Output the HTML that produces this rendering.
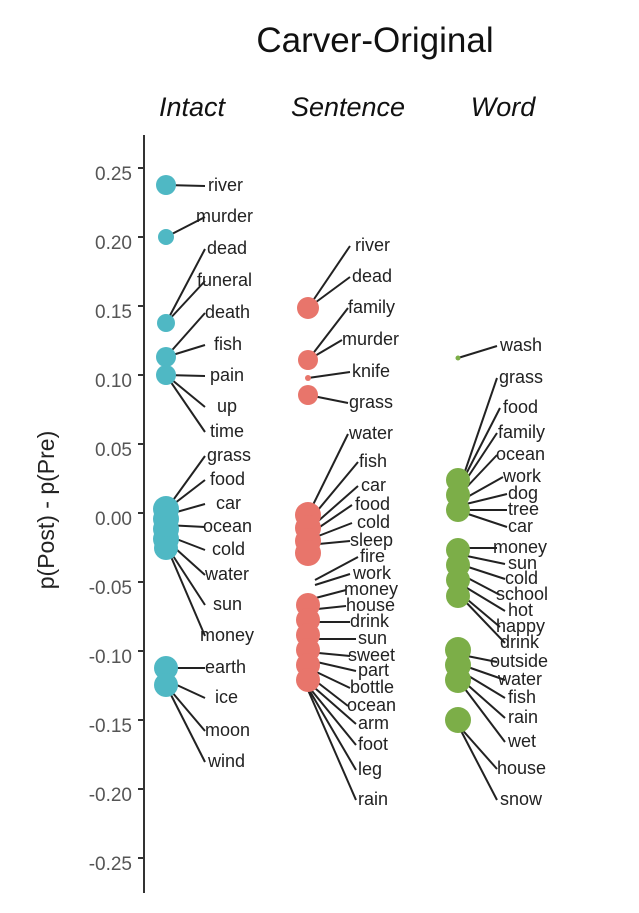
<!DOCTYPE html>
<html><head><meta charset="utf-8"><style>
html,body{margin:0;padding:0;background:#fff;}
svg{display:block;font-family:"Liberation Sans",Arial,sans-serif;}
.l{stroke:#222;stroke-width:2;}
.t{font-size:18px;fill:#222;dominant-baseline:middle;}
.k{font-size:19px;fill:#555;text-anchor:end;dominant-baseline:middle;}
</style></head><body>
<svg width="639" height="913" viewBox="0 0 639 913">
<text x="375" y="52" font-size="35" text-anchor="middle" fill="#111">Carver-Original</text>
<g font-size="27" font-style="italic" text-anchor="middle" fill="#111">
<text x="192" y="116">Intact</text><text x="348" y="116">Sentence</text><text x="503" y="116">Word</text></g>
<text transform="translate(54,510) rotate(-90)" font-size="23" text-anchor="middle" fill="#222">p(Post) - p(Pre)</text>
<line x1="144" y1="135" x2="144" y2="893" stroke="#333" stroke-width="2"/>
<g stroke="#333" stroke-width="2">
<line x1="138" y1="168" x2="144" y2="168"/><line x1="138" y1="237" x2="144" y2="237"/><line x1="138" y1="306" x2="144" y2="306"/><line x1="138" y1="375" x2="144" y2="375"/><line x1="138" y1="444" x2="144" y2="444"/><line x1="138" y1="513" x2="144" y2="513"/><line x1="138" y1="582" x2="144" y2="582"/><line x1="138" y1="651" x2="144" y2="651"/><line x1="138" y1="720" x2="144" y2="720"/><line x1="138" y1="789" x2="144" y2="789"/><line x1="138" y1="858" x2="144" y2="858"/></g>
<g class="k">
<text x="132" y="175">0.25</text><text x="132" y="244">0.20</text><text x="132" y="313">0.15</text><text x="132" y="382">0.10</text><text x="132" y="451">0.05</text><text x="132" y="520">0.00</text><text x="132" y="589">-0.05</text><text x="132" y="658">-0.10</text><text x="132" y="727">-0.15</text><text x="132" y="796">-0.20</text><text x="132" y="865">-0.25</text></g>
<!-- Intact -->
<g class="l">
<line x1="166" y1="185" x2="205" y2="186"/><line x1="166" y1="237" x2="205" y2="217"/><line x1="166" y1="323" x2="205" y2="249"/><line x1="166" y1="323" x2="205" y2="281"/><line x1="166" y1="357" x2="205" y2="313"/><line x1="166" y1="357" x2="205" y2="345"/><line x1="166" y1="375" x2="205" y2="376"/><line x1="166" y1="375" x2="205" y2="407"/><line x1="166" y1="375" x2="205" y2="432"/>
<line x1="166" y1="510" x2="205" y2="456"/><line x1="166" y1="510" x2="205" y2="480"/><line x1="166" y1="515" x2="205" y2="504"/><line x1="166" y1="525" x2="205" y2="527"/><line x1="166" y1="535" x2="205" y2="550"/><line x1="166" y1="540" x2="205" y2="575"/><line x1="166" y1="545" x2="205" y2="605"/><line x1="166" y1="545" x2="205" y2="636"/>
<line x1="166" y1="668" x2="205" y2="668"/><line x1="166" y1="680" x2="205" y2="698"/><line x1="166" y1="685" x2="205" y2="731"/><line x1="166" y1="685" x2="205" y2="762"/></g>
<g fill="#4fb8c4">
<circle cx="166" cy="185" r="10"/><circle cx="166" cy="237" r="8"/><circle cx="166" cy="323" r="9"/><circle cx="166" cy="357" r="10"/><circle cx="166" cy="375" r="10"/>
<circle cx="166" cy="509" r="13"/><circle cx="166" cy="519" r="13"/><circle cx="166" cy="529" r="13"/><circle cx="166" cy="539" r="13"/><circle cx="166" cy="548" r="12"/>
<circle cx="166" cy="668" r="12"/><circle cx="166" cy="685" r="12"/></g>
<g class="t">
<text x="208" y="186">river</text><text x="196" y="217">murder</text><text x="207" y="249">dead</text><text x="197" y="281">funeral</text><text x="205" y="313">death</text><text x="214" y="345">fish</text><text x="210" y="376">pain</text><text x="217" y="407">up</text><text x="210" y="432">time</text><text x="207" y="456">grass</text><text x="210" y="480">food</text><text x="216" y="504">car</text><text x="203" y="527">ocean</text><text x="212" y="550">cold</text><text x="205" y="575">water</text><text x="213" y="605">sun</text><text x="200" y="636">money</text><text x="205" y="668">earth</text><text x="215" y="698">ice</text><text x="205" y="731">moon</text><text x="208" y="762">wind</text></g>
<!-- Sentence -->
<g class="l">
<line x1="308" y1="308" x2="350" y2="246"/><line x1="308" y1="308" x2="350" y2="277"/><line x1="308" y1="360" x2="348" y2="308"/><line x1="308" y1="360" x2="342" y2="340"/><line x1="308" y1="378" x2="350" y2="372"/><line x1="308" y1="395" x2="348" y2="403"/>
<line x1="308" y1="515" x2="348" y2="434"/><line x1="308" y1="522" x2="358" y2="462"/><line x1="308" y1="530" x2="358" y2="486"/><line x1="308" y1="535" x2="352" y2="505"/><line x1="308" y1="540" x2="352" y2="523"/><line x1="308" y1="545" x2="350" y2="541"/><line x1="315" y1="580" x2="358" y2="557"/><line x1="315" y1="585" x2="350" y2="574"/>
<line x1="308" y1="600" x2="346" y2="590"/><line x1="308" y1="610" x2="346" y2="606"/><line x1="308" y1="622" x2="350" y2="622"/><line x1="308" y1="639" x2="356" y2="639"/><line x1="308" y1="652" x2="350" y2="656"/><line x1="308" y1="660" x2="356" y2="671"/><line x1="308" y1="668" x2="350" y2="688"/><line x1="308" y1="675" x2="348" y2="706"/><line x1="308" y1="682" x2="356" y2="724"/><line x1="308" y1="686" x2="356" y2="745"/><line x1="308" y1="688" x2="356" y2="770"/><line x1="308" y1="690" x2="356" y2="800"/></g>
<g fill="#e8756b">
<circle cx="308" cy="308" r="11"/><circle cx="308" cy="360" r="10"/><circle cx="308" cy="378" r="3"/><circle cx="308" cy="395" r="10"/>
<circle cx="308" cy="515" r="13"/><circle cx="308" cy="528" r="13"/><circle cx="308" cy="541" r="13"/><circle cx="308" cy="553" r="13"/>
<circle cx="308" cy="605" r="12"/><circle cx="308" cy="620" r="12"/><circle cx="308" cy="635" r="12"/><circle cx="308" cy="650" r="12"/><circle cx="308" cy="665" r="12"/><circle cx="308" cy="680" r="12"/></g>
<g class="t">
<text x="355" y="246">river</text><text x="352" y="277">dead</text><text x="348" y="308">family</text><text x="342" y="340">murder</text><text x="352" y="372">knife</text><text x="349" y="403">grass</text><text x="349" y="434">water</text><text x="359" y="462">fish</text><text x="361" y="486">car</text><text x="355" y="505">food</text><text x="357" y="523">cold</text><text x="350" y="541">sleep</text><text x="360" y="557">fire</text><text x="353" y="574">work</text><text x="344" y="590">money</text><text x="346" y="606">house</text><text x="350" y="622">drink</text><text x="358" y="639">sun</text><text x="348" y="656">sweet</text><text x="358" y="671">part</text><text x="350" y="688">bottle</text><text x="347" y="706">ocean</text><text x="358" y="724">arm</text><text x="358" y="745">foot</text><text x="358" y="770">leg</text><text x="358" y="800">rain</text></g>
<!-- Word -->
<g class="l">
<line x1="458" y1="358" x2="497" y2="346"/>
<line x1="462" y1="480" x2="497" y2="378"/><line x1="462" y1="482" x2="500" y2="408"/><line x1="462" y1="486" x2="497" y2="433"/><line x1="462" y1="492" x2="497" y2="455"/><line x1="462" y1="500" x2="503" y2="477"/><line x1="462" y1="505" x2="507" y2="494"/><line x1="462" y1="510" x2="507" y2="510"/><line x1="462" y1="512" x2="507" y2="527"/>
<line x1="462" y1="548" x2="497" y2="548"/><line x1="462" y1="555" x2="505" y2="564"/><line x1="462" y1="565" x2="505" y2="579"/><line x1="462" y1="575" x2="500" y2="595"/><line x1="462" y1="585" x2="505" y2="611"/><line x1="462" y1="595" x2="500" y2="627"/><line x1="462" y1="598" x2="505" y2="643"/>
<line x1="462" y1="655" x2="497" y2="662"/><line x1="462" y1="665" x2="505" y2="680"/><line x1="462" y1="672" x2="505" y2="698"/><line x1="462" y1="680" x2="505" y2="718"/><line x1="462" y1="685" x2="505" y2="742"/><line x1="458" y1="725" x2="497" y2="769"/><line x1="458" y1="725" x2="497" y2="800"/></g>
<g fill="#7cae48">
<circle cx="458" cy="358" r="2.5"/>
<circle cx="458" cy="480" r="12"/><circle cx="458" cy="495" r="12"/><circle cx="458" cy="510" r="12"/>
<circle cx="458" cy="550" r="12"/><circle cx="458" cy="565" r="12"/><circle cx="458" cy="580" r="12"/><circle cx="458" cy="596" r="12"/>
<circle cx="458" cy="650" r="13"/><circle cx="458" cy="665" r="13"/><circle cx="458" cy="680" r="13"/><circle cx="458" cy="720" r="13"/></g>
<g class="t">
<text x="500" y="346">wash</text><text x="499" y="378">grass</text><text x="503" y="408">food</text><text x="498" y="433">family</text><text x="496" y="455">ocean</text><text x="503" y="477">work</text><text x="508" y="494">dog</text><text x="508" y="510">tree</text><text x="508" y="527">car</text><text x="493" y="548">money</text><text x="508" y="564">sun</text><text x="505" y="579">cold</text><text x="496" y="595">school</text><text x="508" y="611">hot</text><text x="496" y="627">happy</text><text x="500" y="643">drink</text><text x="490" y="662">outside</text><text x="498" y="680">water</text><text x="508" y="698">fish</text><text x="508" y="718">rain</text><text x="508" y="742">wet</text><text x="497" y="769">house</text><text x="500" y="800">snow</text></g>
</svg>
</body></html>
